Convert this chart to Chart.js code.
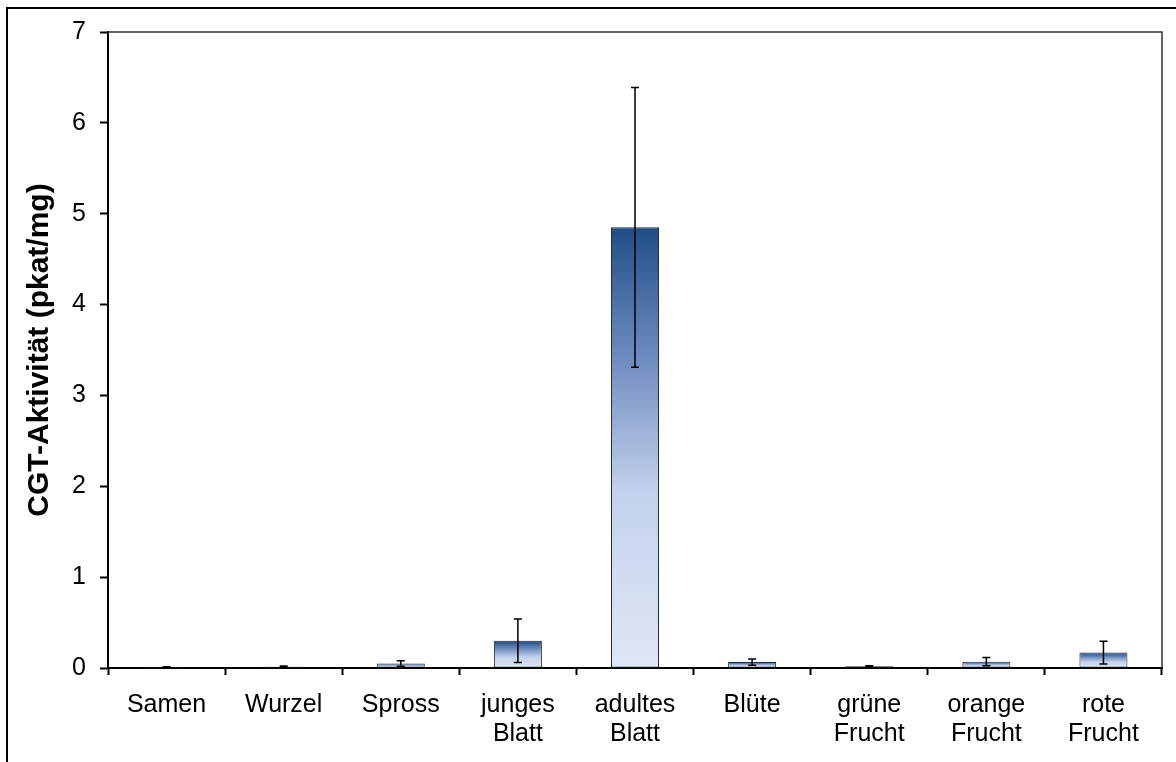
<!DOCTYPE html>
<html>
<head>
<meta charset="utf-8">
<script src="https://cdn.jsdelivr.net/npm/chart.js@4/dist/chart.umd.min.js"></script>
<style>
  html, body { margin: 0; padding: 0; background: #fff; overflow: hidden; }
  #wrap { position: relative; width: 1176px; height: 762px; }
  #frame { position: absolute; left: 6px; top: 7px; width: 1200px; height: 800px; border: 2px solid #000; }
  #chart { position: absolute; left: 0; top: 0; }
</style>
</head>
<body>
<div id="wrap">
  <div id="frame"></div>
  <canvas id="chart" width="1176" height="762"></canvas>
</div>
<script>
// Tissues
const categories = [
    'Samen', 'Wurzel', 'Spross', ['junges', 'Blatt'], ['adultes', 'Blatt'],
    'Blüte', ['grüne', 'Frucht'], ['orange', 'Frucht'], ['rote', 'Frucht']
];
// CGT activity (pkat/mg) and standard deviation
const activity = [0.01, 0.015, 0.05, 0.30, 4.85, 0.065, 0.02, 0.07, 0.17];
const errors = [0.005, 0.006, 0.03, 0.24, 1.54, 0.035, 0.005, 0.045, 0.125];
const yTicks = [0, 1, 2, 3, 4, 5, 6, 7];

const fontFamily = '"Liberation Sans", Arial, sans-serif';

// gradient per bar: dark navy at top, pale blue at bottom
function barGradient(context) {
    const chart = context.chart;
    if (!chart.chartArea) return '#c5d3ee';
    const yScale = chart.scales.y;
    const top = yScale.getPixelForValue(context.raw);
    const base = yScale.getPixelForValue(0);
    const g = chart.ctx.createLinearGradient(0, top, 0, Math.max(base, top + 1));
    g.addColorStop(0, '#1f4d86');
    g.addColorStop(0.3, '#6f8dc0');
    g.addColorStop(0.6, '#c3d1ec');
    g.addColorStop(1, '#e0e7f5');
    return g;
}

// draws the error bars and the thin frame around the plot
const errorBarPlugin = {
    id: 'errorBars',
    afterDatasetsDraw(chart) {
        const ctx = chart.ctx;
        const yScale = chart.scales.y;
        const meta = chart.getDatasetMeta(0);
        ctx.save();
        ctx.strokeStyle = '#000';
        ctx.lineWidth = 1.5;
        meta.data.forEach((bar, i) => {
            const hi = yScale.getPixelForValue(activity[i] + errors[i]);
            const lo = yScale.getPixelForValue(Math.max(0, activity[i] - errors[i]));
            const x = bar.x;
            ctx.beginPath();
            ctx.moveTo(x, hi);
            ctx.lineTo(x, lo);
            ctx.moveTo(x - 4, hi);
            ctx.lineTo(x + 4, hi);
            ctx.moveTo(x - 4, lo);
            ctx.lineTo(x + 4, lo);
            ctx.stroke();
        });
        const a = chart.chartArea;
        ctx.strokeStyle = '#333';
        ctx.lineWidth = 1.5;
        ctx.beginPath();
        ctx.moveTo(a.left, a.top);
        ctx.lineTo(a.right, a.top);
        ctx.lineTo(a.right, a.bottom);
        ctx.stroke();
        ctx.restore();
    }
};

const ctxChart = document.getElementById('chart').getContext('2d');
const chart = new Chart(ctxChart, {
    type: 'bar',
    data: {
        labels: categories,
        datasets: [{
            label: 'CGT-Aktivität',
            data: activity,
            backgroundColor: barGradient,
            borderColor: '#2b2b2b',
            borderWidth: 1,
            borderSkipped: false,
            barPercentage: 0.41,
            categoryPercentage: 1
        }]
    },
    options: {
        responsive: false,
        animation: false,
        devicePixelRatio: 1,
        layout: { padding: { left: 0, top: 32, right: 14, bottom: 0 } },
        plugins: {
            legend: { display: false },
            tooltip: { enabled: false }
        },
        scales: {
            x: {
                afterFit: (scale) => { scale.height = 94; },
                grid: {
                    offset: true,
                    drawOnChartArea: false,
                    drawTicks: true,
                    tickLength: 7,
                    tickWidth: 2,
                    tickColor: '#000'
                },
                border: { color: '#000', width: 2 },
                ticks: {
                    color: '#000',
                    padding: 16,
                    maxRotation: 0,
                    autoSkip: false,
                    font: { family: fontFamily, size: 25, lineHeight: 1.15 }
                }
            },
            y: {
                min: 0,
                max: 7,
                afterFit: (scale) => { scale.width = 108; },
                afterBuildTicks: (scale) => { scale.ticks = yTicks.map(v => ({ value: v })); },
                grid: {
                    drawOnChartArea: false,
                    drawTicks: true,
                    tickLength: 8,
                    tickWidth: 2,
                    tickColor: '#000'
                },
                border: { color: '#000', width: 2 },
                ticks: {
                    color: '#000',
                    padding: 14,
                    font: { family: fontFamily, size: 25 }
                },
                title: {
                    display: true,
                    text: 'CGT-Aktivität (pkat/mg)',
                    color: '#000',
                    padding: { top: 22, bottom: 0 },
                    font: { family: fontFamily, size: 30, weight: 'bold' }
                }
            }
        }
    },
    plugins: [errorBarPlugin]
});
</script>
</body>
</html>
